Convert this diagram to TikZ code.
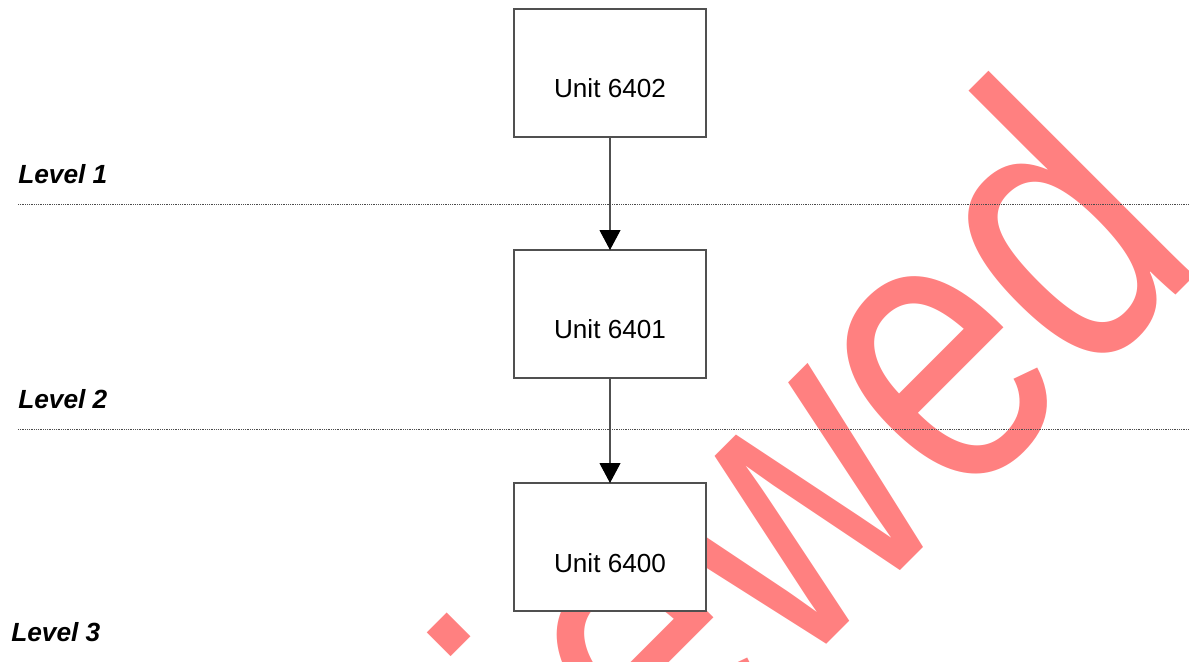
\documentclass[tikz,border=0pt]{standalone}
\usepackage{fontspec}
\setmainfont{Liberation Sans}
\newfontfamily\wmfont[FakeStretch=0.80]{Liberation Sans}
\usetikzlibrary{arrows.meta}
\definecolor{wmred}{RGB}{255,128,128}
\definecolor{edgegray}{RGB}{80,80,80}
\begin{document}
\begin{tikzpicture}[x=0.75pt,y=-0.75pt,
  unitbox/.style={draw=edgegray, line width=0.8pt, fill=white,
    minimum width=144pt, minimum height=96pt, inner sep=0pt, outer sep=0pt},
  unitlabel/.style={inner sep=0pt, anchor=base, font=\fontsize{19.6pt}{22pt}\selectfont},
  levellabel/.style={inner sep=0pt, anchor=base west,
    font=\fontsize{19.7pt}{22pt}\selectfont\bfseries\itshape},
  levelline/.style={draw=black!70, line width=0.75pt, dash pattern=on 0.75pt off 0.6pt},
  conn/.style={draw=edgegray, line width=0.8pt,
    -{Triangle[width=15.75pt,length=15pt,fill=black,color=black]}},
  watermark/.style={text=wmred, inner sep=0pt, anchor=base west, rotate=45,
    font=\wmfont\fontsize{300.75pt}{300pt}\selectfont}]
\useasboundingbox (0,0) rectangle (1189,661);
\begin{scope}
\clip (0,0) rectangle (1189,661);
\node[watermark] (wm) at (214,1257) {Reviewed};
\end{scope}
% level separators
\coordinate (s1a) at (18,204);
\coordinate (s1b) at (1189,204);
\coordinate (s2a) at (18,429);
\coordinate (s2b) at (1189,429);
\draw[levelline] (s1a) -- (s1b);
\draw[levelline] (s2a) -- (s2b);
% boxes
\node[unitbox] (b6402) at (610,73) {};
\node[unitbox] (b6401) at (610,314) {};
\node[unitbox] (b6400) at (610,547) {};
\node[unitlabel] (t6402) at (610,97) {Unit 6402};
\node[unitlabel] (t6401) at (610,338) {Unit 6401};
\node[unitlabel] (t6400) at (610,572) {Unit 6400};
% connectors
\draw[conn] (b6402.south) -- (b6401.north);
\draw[conn] (b6401.south) -- (b6400.north);
% level labels
\node[levellabel] (lv1) at (18,183) {Level 1};
\node[levellabel] (lv2) at (18,408) {Level 2};
\node[levellabel] (lv3) at (11,641) {Level 3};
\end{tikzpicture}
\end{document}
